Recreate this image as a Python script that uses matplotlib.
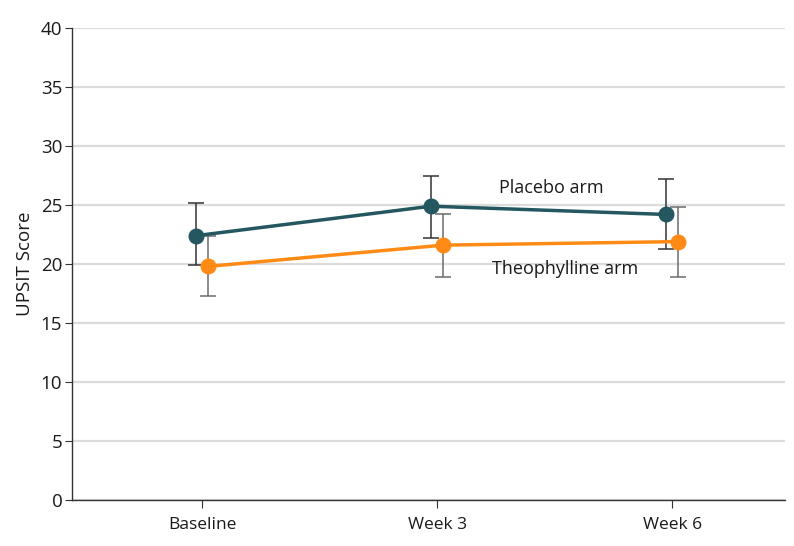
import numpy as np
import matplotlib.pyplot as plt

# timepoints and values
timepoints = ["Baseline", "Week 3", "Week 6"]

placebo_mean = [22.4, 24.9, 24.2]
placebo_low = [19.9, 22.2, 21.3]
placebo_high = [25.2, 27.5, 27.2]

theo_mean = [19.8, 21.6, 21.9]
theo_low = [17.3, 18.9, 18.9]
theo_high = [22.4, 24.2, 24.8]

y_ticks = [0, 5, 10, 15, 20, 25, 30, 35, 40]

placebo_color = "#245760"
theo_color = "#FF8B16"

plt.rcParams['font.family'] = ['Open Sans', 'DejaVu Sans']

fig = plt.figure(figsize=(7.94, 5.46), dpi=100)
ax = fig.add_axes([0.0907, 0.0842, 0.898, 0.8645])

x = np.arange(len(timepoints))
offset = 0.026

# error bars
p_mean = np.array(placebo_mean)
p_err = [p_mean - np.array(placebo_low), np.array(placebo_high) - p_mean]
t_mean = np.array(theo_mean)
t_err = [t_mean - np.array(theo_low), np.array(theo_high) - t_mean]

ax.errorbar(x - offset, p_mean, yerr=p_err, fmt='none', ecolor='#333333',
            elinewidth=1.1, capsize=6, capthick=1.1, zorder=3)
ax.errorbar(x + offset, t_mean, yerr=t_err, fmt='none', ecolor='#6b6b6b',
            elinewidth=1.1, capsize=6, capthick=1.1, zorder=3)

# lines with markers
ax.plot(x - offset, p_mean, color=placebo_color, lw=2.5, marker='o',
        markersize=10.5, zorder=4)
ax.plot(x + offset, t_mean, color=theo_color, lw=2.5, marker='o',
        markersize=10.5, zorder=4)

# series labels
ax.text(1.485, 26.4, "Placebo arm", ha='center', va='center', fontsize=13,
        color='#1a1a1a')
ax.text(1.545, 19.6, "Theophylline arm", ha='center', va='center',
        fontsize=13, color='#1a1a1a')

ax.set_xlim(-0.553, 2.48)
ax.set_ylim(0, 40)
ax.set_yticks(y_ticks)
ax.set_xticks(x)
ax.set_xticklabels(timepoints)
ax.set_ylabel("UPSIT Score", fontsize=13.5, color='#1a1a1a', labelpad=5)

ax.yaxis.grid(True, color='#dcdcdc', lw=1.6, zorder=0)
ax.set_axisbelow(True)

for side in ['top', 'right']:
    ax.spines[side].set_visible(False)
for side in ['left', 'bottom']:
    ax.spines[side].set_color('#333333')
    ax.spines[side].set_linewidth(1.0)

ax.tick_params(axis='y', length=5, width=0.8, color='#333333', labelsize=13.5,
               labelcolor='#1a1a1a', pad=2)
ax.tick_params(axis='x', length=6, width=0.8, color='#333333', labelsize=12.5,
               labelcolor='#1a1a1a', pad=6)

fig.savefig("out.png", dpi=100)
